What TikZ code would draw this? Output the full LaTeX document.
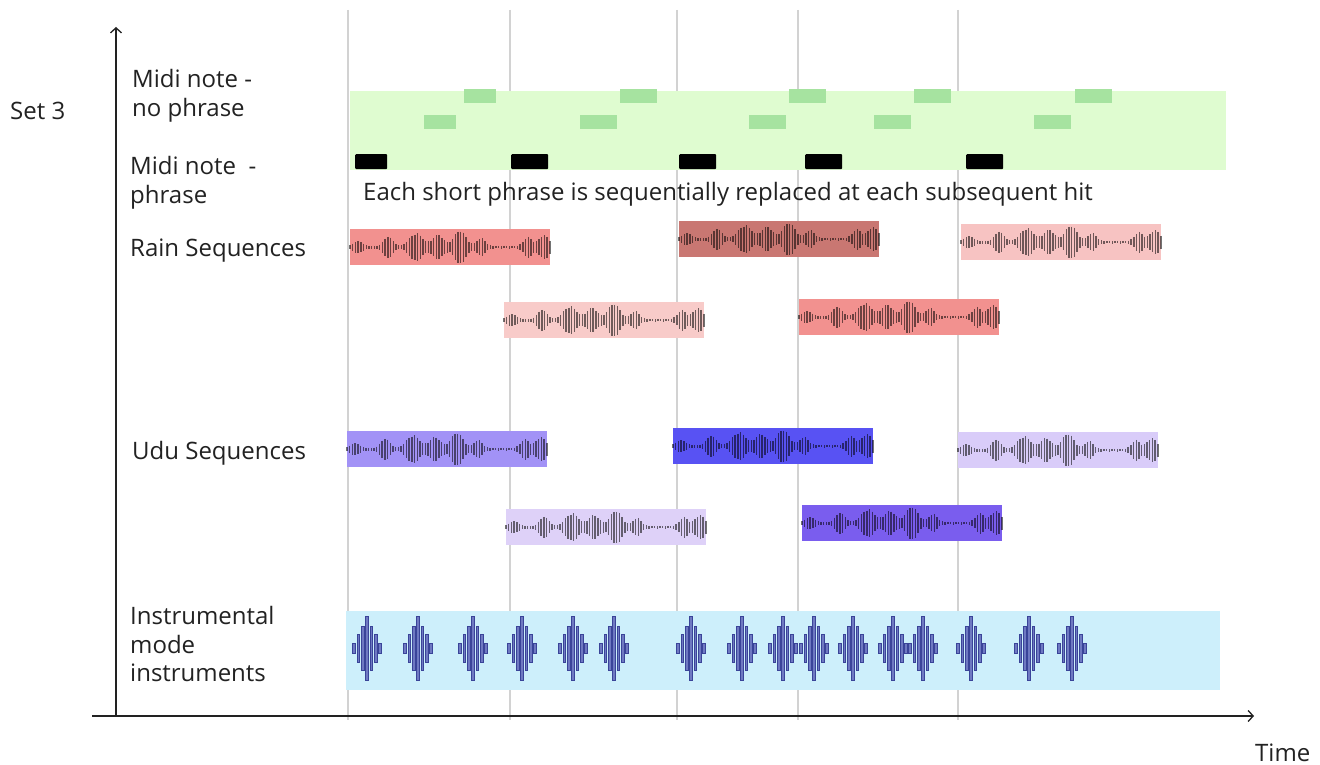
\documentclass[tikz,border=0pt]{standalone}
\usepackage{fontspec}
\setmainfont{Open Sans}
\usetikzlibrary{arrows.meta}
\definecolor{gridc}{HTML}{D2D2D2}
\definecolor{axisc}{HTML}{222222}
\definecolor{txtc}{HTML}{222222}
\definecolor{greenband}{HTML}{DFFCD0}
\definecolor{greennote}{HTML}{A6E3A0}
\definecolor{blueband}{HTML}{CDEFFB}
\definecolor{rainA}{HTML}{F2918F}
\definecolor{rainB}{HTML}{C97772}
\definecolor{rainC}{HTML}{F7C3C2}
\definecolor{rainD}{HTML}{F8CBC9}
\definecolor{uduA}{HTML}{A292F6}
\definecolor{uduB}{HTML}{5852F3}
\definecolor{uduC}{HTML}{D9CCF9}
\definecolor{uduD}{HTML}{DED1F8}
\definecolor{uduE}{HTML}{7A5DEE}
\definecolor{glyphfill}{HTML}{6F79C2}
\definecolor{glyphline}{HTML}{3A4499}
\newcommand\spk[3]{#2*exp(max(-8,0-((\wx-#1)/#3)^2))}
\newcommand\drawwave[1]{%
  \foreach \wx in {0,2.7,...,202}{%
    \pgfmathsetmacro\wh{(1.3+\spk{8}{5}{6}+\spk{38}{10}{6}+\spk{66}{13}{9}+\spk{88}{11}{8}+\spk{110}{16}{8}+\spk{131}{8}{6}+\spk{178}{9}{6}+\spk{194}{11}{7})*(0.86+0.14*abs(sin(\wx*47)))}%
    \draw[wavebar] ([xshift=\wx pt,yshift=\wh pt]#1.west) -- ([xshift=\wx pt,yshift=-\wh pt]#1.west);
  }}
\newcommand\instglyph[1]{%
  \foreach \dx/\dh in {-13/5,-8.7/14,-4.3/22,0/32,4.3/22,8.7/14,13/5}{%
    \draw[glyphbar] (#1+\dx-1.25,648-\dh) rectangle (#1+\dx+1.25,648+\dh);
  }}
\begin{document}
\begin{tikzpicture}[x=1pt,y=-1pt,
  gridline/.style={draw=gridc,line width=1.6pt},
  axis/.style={draw=axisc,line width=1.3pt},
  lbl/.style={anchor=west,inner sep=0pt,text=txtc,align=left,font=\fontsize{24}{28.5}\selectfont},
  band/.style={anchor=north west,inner sep=0pt,draw=none},
  seqbox/.style={anchor=north west,inner sep=0pt,draw=none,minimum width=200pt,minimum height=36pt},
  notebox/.style={anchor=north west,inner sep=0pt,draw=none,fill=greennote,minimum width=37pt,minimum height=14pt},
  hitbox/.style={anchor=north west,inner sep=0pt,draw=none,fill=black,rounded corners=1pt,minimum width=37pt,minimum height=15pt},
  wavebar/.style={draw=black,opacity=0.55,line width=1.4pt},
  glyphbar/.style={fill=glyphfill,draw=glyphline,line width=0.6pt}]
\useasboundingbox[fill=white] (0,0) rectangle (1320,765);

% vertical time grid lines
\foreach \gx in {348,510,677,798,958}{\draw[gridline] (\gx,10) -- (\gx,720);}

% axes
\coordinate (orig) at (116,716);
\coordinate (ytop) at (116,27);
\coordinate (xleft) at (92,716);
\coordinate (xright) at (1254,716);
\draw[axis,-{Straight Barb[length=5pt,width=11pt,line width=1.3pt]}] (orig) -- (ytop);
\draw[axis,-{Straight Barb[length=5pt,width=11pt,line width=1.3pt]}] (xleft) -- (xright);

% labels
\node[lbl] (set3) at (10,111) {Set 3};
\node[lbl] (midinp) at (132,96) {Midi note -\\no phrase};
\node[lbl] (midip) at (130,183) {Midi note\ \ -\\phrase};
\node[lbl] (rainlbl) at (130,251) {Rain Sequences};
\node[lbl] (udulbl) at (132,453) {Udu Sequences};
\node[lbl] (instlbl) at (130,644) {Instrumental\\mode\\instruments};
\node[lbl] (timelbl) at (1255,753) {Time};

% midi band
\node[band,fill=greenband,minimum width=876pt,minimum height=79pt] (midiband) at (350,91) {};
\node[notebox,minimum width=32pt] (n1) at (464,89) {};
\node[notebox,minimum width=32pt] (n2) at (424,115) {};
\node[notebox] (n3) at (620,89) {};
\node[notebox] (n4) at (580,115) {};
\node[notebox] (n5) at (789,89) {};
\node[notebox] (n6) at (749,115) {};
\node[notebox] (n7) at (914,89) {};
\node[notebox] (n8) at (874,115) {};
\node[notebox] (n9) at (1075,89) {};
\node[notebox] (n10) at (1034,115) {};
\node[hitbox,minimum width=32pt] (h1) at (355,154) {};
\node[hitbox] (h2) at (511,154) {};
\node[hitbox] (h3) at (679,154) {};
\node[hitbox] (h4) at (805,154) {};
\node[hitbox] (h5) at (966,154) {};

\node[lbl] (phrasenote) at (363,194) {Each short phrase is sequentially replaced at each subsequent hit};

% rain sequences
\node[seqbox,fill=rainA] (r1) at (350,229) {}; \drawwave{r1}
\node[seqbox,fill=rainB] (r2) at (679,221) {}; \drawwave{r2}
\node[seqbox,fill=rainC] (r3) at (961,224) {}; \drawwave{r3}
\node[seqbox,fill=rainD] (r4) at (504,302) {}; \drawwave{r4}
\node[seqbox,fill=rainA] (r5) at (799,299) {}; \drawwave{r5}

% udu sequences
\node[seqbox,fill=uduA] (u1) at (347,431) {}; \drawwave{u1}
\node[seqbox,fill=uduB] (u2) at (673,428) {}; \drawwave{u2}
\node[seqbox,fill=uduC] (u3) at (958,432) {}; \drawwave{u3}
\node[seqbox,fill=uduD] (u4) at (506,509) {}; \drawwave{u4}
\node[seqbox,fill=uduE] (u5) at (802,505) {}; \drawwave{u5}

% instrumental band
\node[band,fill=blueband,minimum width=874pt,minimum height=79pt] (instband) at (346,611) {};
\foreach \gx in {367,418,473,522,573,614,691,742,783,814,853,893,923,971,1029,1072}{\instglyph{\gx}}
\end{tikzpicture}
\end{document}
